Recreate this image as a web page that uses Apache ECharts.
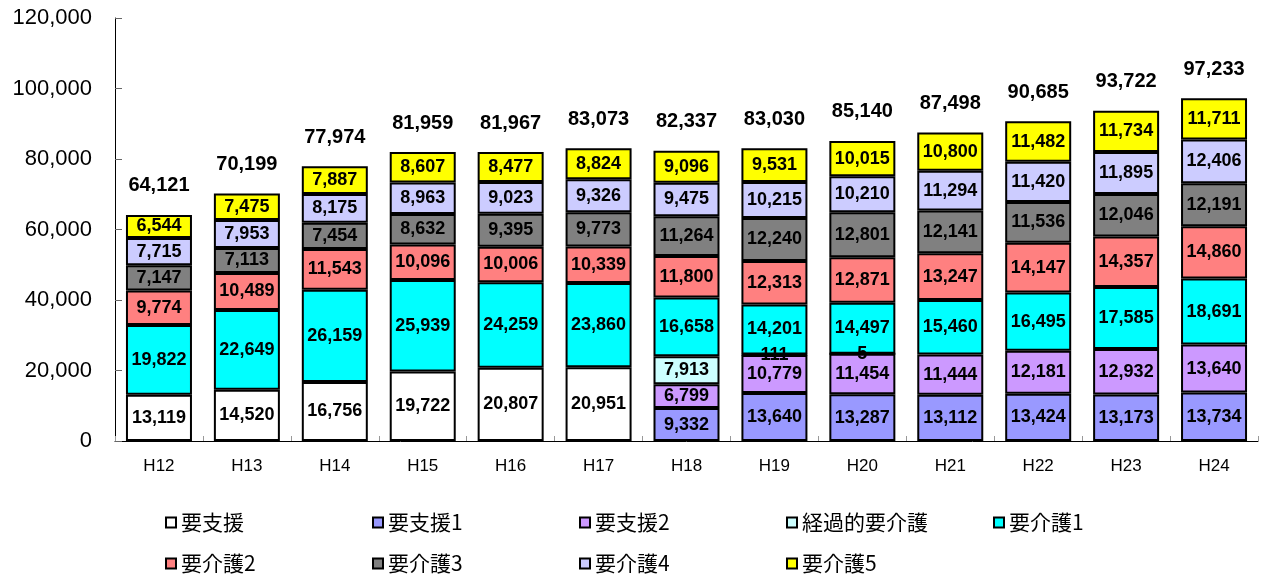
<!DOCTYPE html>
<html>
<head>
<meta charset="utf-8">
<script src="https://cdn.jsdelivr.net/npm/echarts@6/dist/echarts.min.js"></script>
<style>
  html, body { margin: 0; padding: 0; background: #fff; }
  #chart { width: 1272px; height: 575px; }
</style>
</head>
<body>
<div id="chart"></div>
<script>
var categories = ["H12", "H13", "H14", "H15", "H16", "H17", "H18", "H19", "H20", "H21", "H22", "H23", "H24"];

var seriesNames = ["要支援", "要支援1", "要支援2", "経過的要介護", "要介護1", "要介護2", "要介護3", "要介護4", "要介護5"];
var seriesColors = ["#ffffff", "#9999ff", "#cc99ff", "#ccffff", "#00ffff", "#ff8080", "#808080", "#ccccff", "#ffff00"];

var shien   = [13119, 14520, 16756, 19722, 20807, 20951, null, null, null, null, null, null, null];
var shien1  = [null, null, null, null, null, null, 9332, 13640, 13287, 13112, 13424, 13173, 13734];
var shien2  = [null, null, null, null, null, null, 6799, 10779, 11454, 11444, 12181, 12932, 13640];
var keika   = [null, null, null, null, null, null, 7913, 111, 5, null, null, null, null];
var kaigo1  = [19822, 22649, 26159, 25939, 24259, 23860, 16658, 14201, 14497, 15460, 16495, 17585, 18691];
var kaigo2  = [9774, 10489, 11543, 10096, 10006, 10339, 11800, 12313, 12871, 13247, 14147, 14357, 14860];
var kaigo3  = [7147, 7113, 7454, 8632, 9395, 9773, 11264, 12240, 12801, 12141, 11536, 12046, 12191];
var kaigo4  = [7715, 7953, 8175, 8963, 9023, 9326, 9475, 10215, 10210, 11294, 11420, 11895, 12406];
var kaigo5  = [6544, 7475, 7887, 8607, 8477, 8824, 9096, 9531, 10015, 10800, 11482, 11734, 11711];
var totals  = [64121, 70199, 77974, 81959, 81967, 83073, 82337, 83030, 85140, 87498, 90685, 93722, 97233];

var yTicks = { min: 0, max: 120000, interval: 20000 };

var seriesData = [shien, shien1, shien2, keika, kaigo1, kaigo2, kaigo3, kaigo4, kaigo5];

var fmt = function (v) { return Number(v).toLocaleString("en-US"); };
var labelFont = "'Liberation Sans', Arial, sans-serif";

var series = seriesNames.map(function (name, i) {
    return {
        name: name,
        type: "bar",
        stack: "total",
        barWidth: 66,
        data: seriesData[i],
        itemStyle: { color: seriesColors[i], borderColor: "#000", borderWidth: 2 },
        label: {
            show: true,
            position: "inside",
            color: "#000",
            fontFamily: labelFont,
            fontWeight: "bold",
            fontSize: 18,
            formatter: function (p) { return fmt(p.value); }
        },
        emphasis: { disabled: true }
    };
});

// zero-height bar on top of the stack, only to carry the total label
series.push({
    name: "合計",
    type: "bar",
    stack: "total",
    barWidth: 66,
    data: totals.map(function () { return 0; }),
    itemStyle: { color: "rgba(0,0,0,0)", borderWidth: 0 },
    silent: true,
    label: {
        show: true,
        position: "top",
        distance: 19,
        color: "#000",
        fontFamily: labelFont,
        fontWeight: "bold",
        fontSize: 20,
        formatter: function (p) { return fmt(totals[p.dataIndex]); }
    }
});

var legendPos = [
    [160, 507], [367, 507], [574, 507], [781, 507], [988, 507],
    [160, 548], [367, 548], [574, 548], [781, 548]
];
var legends = seriesNames.map(function (name, i) {
    return {
        data: [name],
        left: legendPos[i][0],
        top: legendPos[i][1],
        icon: "rect",
        itemWidth: 10,
        itemHeight: 10,
        selectedMode: false,
        textStyle: { fontSize: 21, color: "#000", fontFamily: "'Noto Sans CJK JP', sans-serif" }
    };
});

var chart = echarts.init(document.getElementById("chart"), null, { renderer: "canvas" });
chart.setOption({
    animation: false,
    backgroundColor: "#fff",
    legend: legends,
    grid: { left: 115, right: 14, top: 18, bottom: 134, containLabel: false },
    xAxis: {
        type: "category",
        data: categories,
        axisLine: { lineStyle: { color: "#000", width: 1 } },
        axisTick: { show: true, inside: true, length: 5, lineStyle: { color: "#999" } },
        axisLabel: { color: "#000", fontSize: 17, margin: 17, fontFamily: labelFont }
    },
    yAxis: {
        type: "value",
        min: yTicks.min,
        max: yTicks.max,
        interval: yTicks.interval,
        axisLine: { show: true, lineStyle: { color: "#000", width: 1 } },
        axisTick: { show: true, inside: true, length: 7, lineStyle: { color: "#666" } },
        splitLine: { show: false },
        axisLabel: { color: "#000", fontSize: 22, margin: 23, fontFamily: labelFont, formatter: fmt }
    },
    series: series
});
</script>
</body>
</html>
